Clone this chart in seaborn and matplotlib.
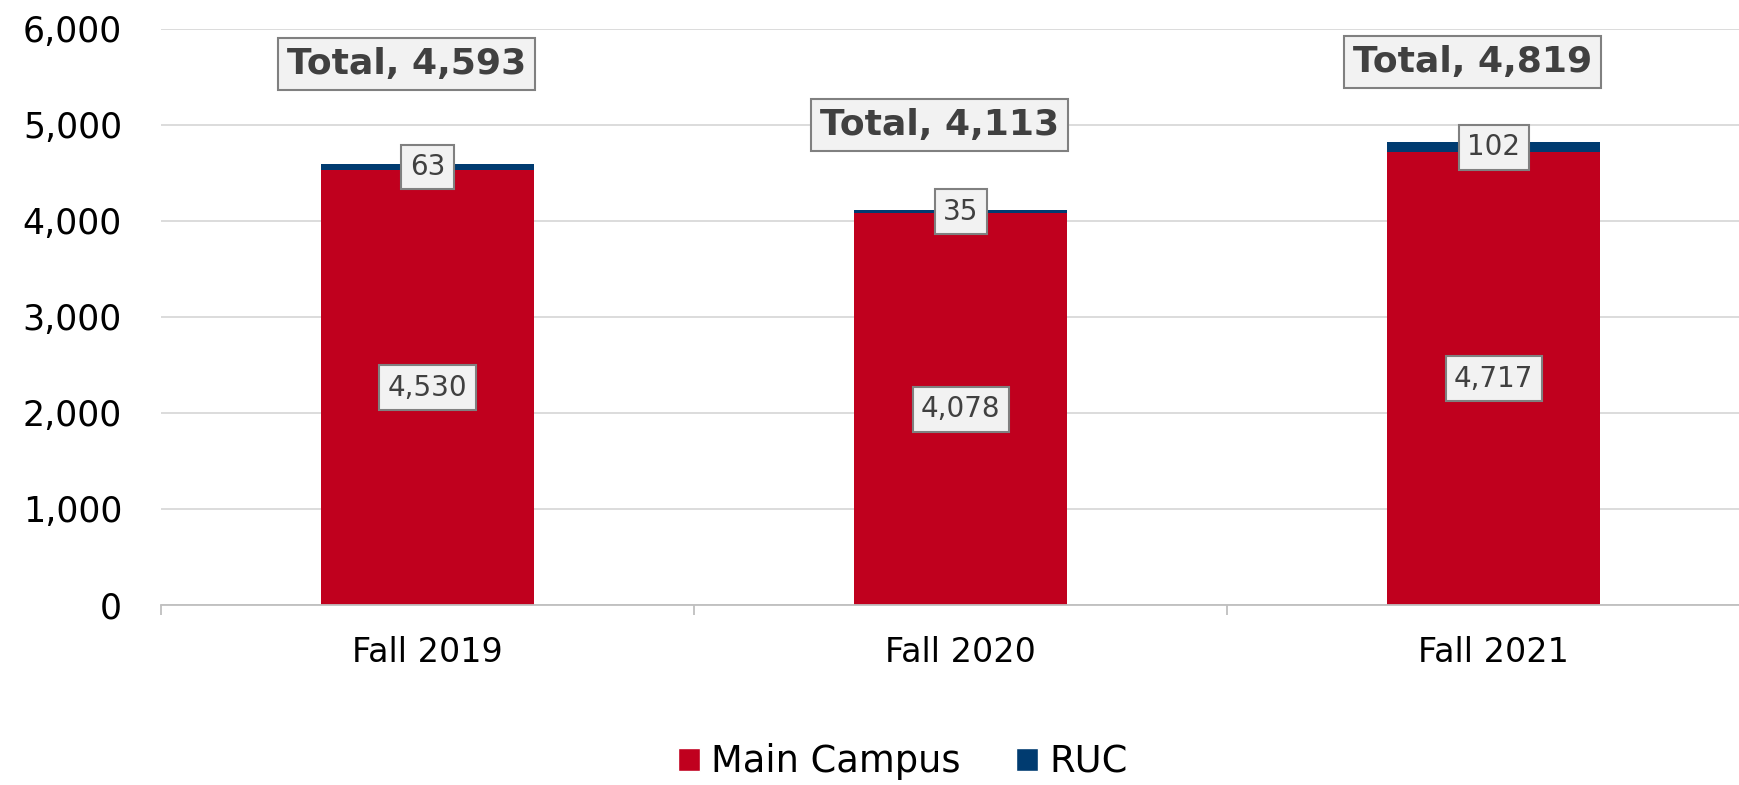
import matplotlib.pyplot as plt
import seaborn as sns
import pandas as pd
from matplotlib.patches import Patch
from matplotlib.ticker import FuncFormatter, FixedLocator

terms = ['Fall 2019', 'Fall 2020', 'Fall 2021']
main_campus = [4530, 4078, 4717]
ruc = [63, 35, 102]
# how far above each bar the "Total" callout sits (hand placed in the original)
total_lift = [1040, 890, 835]

df = pd.DataFrame({'Term': terms, 'Main Campus': main_campus, 'RUC': ruc})
df['Total'] = df['Main Campus'] + df['RUC']

sns.set_style('white')
plt.rcParams['font.family'] = ['DejaVu Sans']

red = '#C0001E'
navy = '#003B70'

fig = plt.figure(figsize=(17.4, 7.85), dpi=100)
ax = fig.add_axes([0.0925, 0.2293, 0.9075, 0.7338])

# stacked bars: total in navy underneath, main campus in red on top
sns.barplot(data=df, x='Term', y='Total', color=navy, width=0.4, saturation=1,
            linewidth=0, ax=ax)
sns.barplot(data=df, x='Term', y='Main Campus', color=red, width=0.4, saturation=1,
            linewidth=0, ax=ax)

ax.set_ylim(0, 6000)
ax.set_xlim(-0.5, 2.462)
ax.set_yticks(range(0, 6001, 1000))
ax.yaxis.set_major_formatter(FuncFormatter(lambda v, p: f'{int(v):,}'))
ax.grid(axis='y', color='#d9d9d9', linewidth=1.3)
ax.set_axisbelow(True)
ax.set_xlabel('')
ax.set_ylabel('')
sns.despine(ax=ax, left=True)
ax.spines['bottom'].set_color('#bfbfbf')
ax.spines['bottom'].set_linewidth(1.3)

ax.tick_params(axis='y', length=0, labelsize=25, pad=28, labelcolor='black')
ax.tick_params(axis='x', which='major', length=0, labelsize=24, pad=22, labelcolor='black')
ax.xaxis.set_minor_locator(FixedLocator([-0.5, 0.5, 1.5]))
ax.tick_params(axis='x', which='minor', bottom=True, length=7, width=1.3, color='#bfbfbf',
               direction='out')

box = dict(boxstyle='square,pad=0.3', facecolor='#f2f2f2', edgecolor='#808080', linewidth=1.5)
for i, row in df.iterrows():
    ax.text(i, row['Main Campus'] / 2, f"{row['Main Campus']:,}", ha='center', va='center',
            fontsize=20, color='#404040', bbox=box)
    ax.text(i, row['Main Campus'] + row['RUC'] / 2, f"{row['RUC']:,}", ha='center', va='center',
            fontsize=20, color='#404040', bbox=box)
    ax.text(i - 0.04, row['Total'] + total_lift[i], f"Total, {row['Total']:,}", ha='center',
            va='center', fontsize=26, fontweight='semibold', color='#404040',
            bbox=dict(boxstyle='square,pad=0.25', facecolor='#f2f2f2', edgecolor='#808080',
                      linewidth=1.5))

handles = [Patch(facecolor=red, label='Main Campus'), Patch(facecolor=navy, label='RUC')]
fig.legend(handles=handles, loc='center', bbox_to_anchor=(903 / 1740, 1 - 762 / 785), ncol=2,
           frameon=False, fontsize=26.5, handlelength=0.6, handleheight=0.6, handletextpad=0.3,
           columnspacing=1.5, labelcolor='black')

fig.savefig('out.png', dpi=100)
